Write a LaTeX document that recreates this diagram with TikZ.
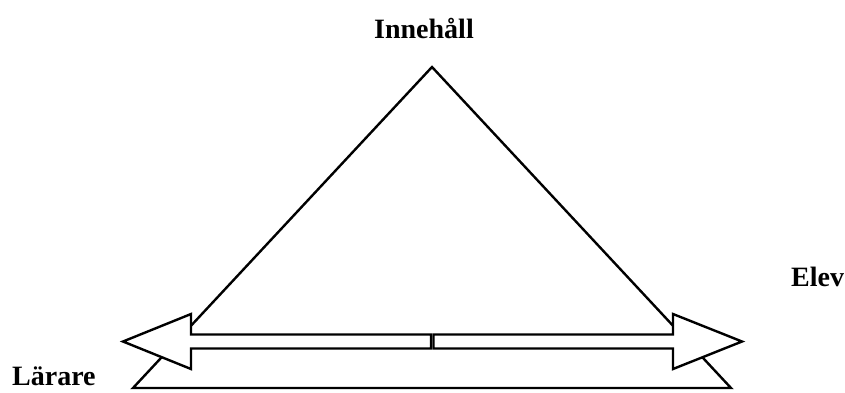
\documentclass[tikz,border=0pt]{standalone}
\usepackage{fontspec}
\setmainfont{Liberation Serif}
\begin{document}
\begin{tikzpicture}[x=1pt,y=-1pt,
  shape line/.style={draw=black,line width=2.4pt,line join=miter,fill=white},
  label text/.style={font=\fontsize{28}{32}\selectfont\bfseries,inner sep=0pt,anchor=base}]
\clip (0,0) rectangle (845,392);
\useasboundingbox (0,0) rectangle (845,392);
% triangle
\coordinate (apex) at (432,67);
\coordinate (bl) at (133,388);
\coordinate (br) at (731,388);
\draw[shape line] (apex) -- (bl) -- (br) -- cycle;
% left arrow
\draw[shape line] (431,334.5) -- (191,334.5) -- (191,314) -- (123,341.5) -- (191,369) -- (191,348.5) -- (431,348.5) -- cycle;
% right arrow
\draw[shape line] (433.5,334.5) -- (673,334.5) -- (673,314) -- (742,341.5) -- (673,369) -- (673,348.5) -- (433.5,348.5) -- cycle;
% labels
\node[label text] (content) at (424,38) {Innehåll};
\node[label text,anchor=base west] (pupil) at (791,286) {Elev};
\node[label text,anchor=base west] (teacher) at (12,385) {Lärare};
\end{tikzpicture}
\end{document}
